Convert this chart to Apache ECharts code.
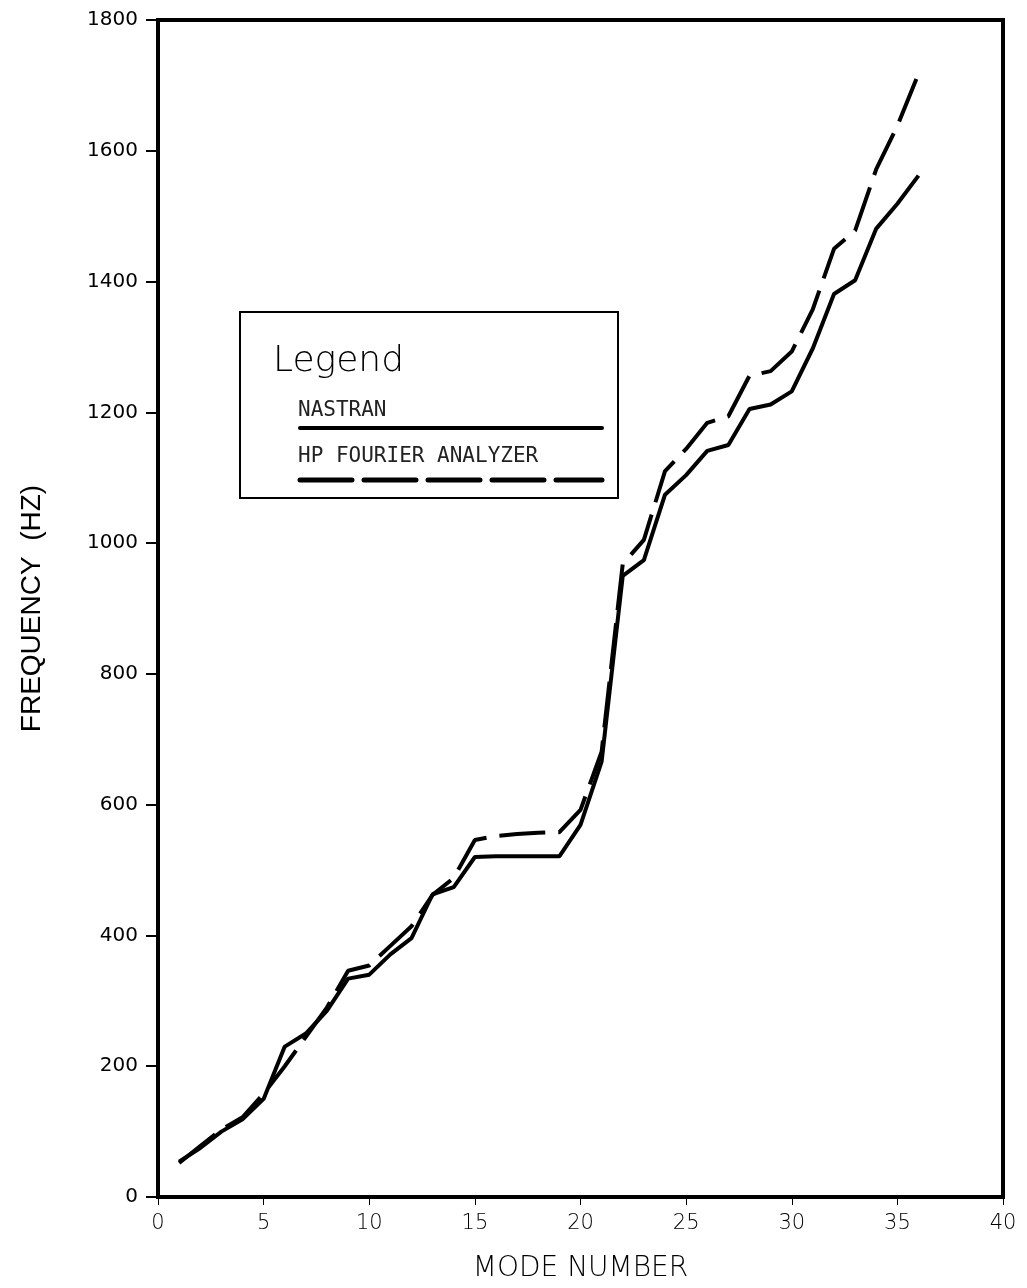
<!DOCTYPE html>
<html>
<head>
<meta charset="utf-8">
<title>Frequency vs mode number</title>
<script src="https://cdn.jsdelivr.net/npm/echarts@6/dist/echarts.min.js"></script>
<style>
  html, body { margin: 0; padding: 0; background: #fff; }
  #chart { width: 1027px; height: 1288px; }
</style>
</head>
<body>
<div id="chart"></div>
<script>
// mode numbers
const modes = [1, 2, 3, 4, 5, 6, 7, 8, 9, 10, 11, 12, 13, 14, 15, 16, 17, 18,
  19, 20, 21, 22, 23, 24, 25, 26, 27, 28, 29, 30, 31, 32, 33, 34, 35, 36];
// NASTRAN frequencies (Hz)
const nastran = [54, 75, 100, 119, 150, 230, 250, 285, 334, 340, 371, 396,
  463, 474, 520, 521, 521, 521, 521, 569, 666, 950, 974, 1074, 1104, 1141,
  1150, 1205, 1212, 1232, 1298, 1381, 1402, 1481, 1519, 1562];
// HP Fourier analyzer frequencies (Hz)
const hpFourier = [52, 78, 103, 122, 158, 200, 245, 290, 346, 354, 384, 414,
  462, 488, 546, 552, 555, 557, 558, 592, 681, 968, 1005, 1110, 1144, 1184,
  1194, 1256, 1263, 1293, 1358, 1450, 1478, 1572, 1638, 1718];
const xTicks = [0, 5, 10, 15, 20, 25, 30, 35, 40];
const yTicks = [0, 200, 400, 600, 800, 1000, 1200, 1400, 1600, 1800];

const chart = echarts.init(document.getElementById("chart"));

const option = {
  backgroundColor: "#fff",
  animation: false,
  grid: {
    left: 158,
    right: 24,
    top: 20,
    bottom: 85,
    show: true,
    borderColor: "#000",
    borderWidth: 4,
  },
  xAxis: {
    type: "value",
    min: xTicks[0],
    max: xTicks[xTicks.length - 1],
    interval: 5,
    name: "MODE NUMBER",
    nameLocation: "middle",
    nameGap: 58,
    nameTextStyle: {
      fontFamily: "DejaVu Sans",
      fontWeight: 200,
      fontSize: 28,
      color: "#000",
    },
    axisLine: { show: true, lineStyle: { color: "#000", width: 4 } },
    axisTick: { show: true, length: 8, lineStyle: { color: "#000", width: 1 } },
    axisLabel: {
      margin: 16,
      fontFamily: "DejaVu Sans",
      fontWeight: 200,
      fontSize: 21,
      color: "#000",
    },
    splitLine: { show: false },
  },
  yAxis: {
    type: "value",
    min: yTicks[0],
    max: yTicks[yTicks.length - 1],
    interval: 200,
    name: "FREQUENCY  (HZ)",
    nameLocation: "middle",
    nameGap: 112,
    nameRotate: 90,
    nameTextStyle: {
      fontFamily: "Liberation Sans",
      fontSize: 28,
      color: "#000",
    },
    axisLine: { show: true, lineStyle: { color: "#000", width: 4 } },
    axisTick: { show: true, length: 12, lineStyle: { color: "#000", width: 2 } },
    axisLabel: {
      margin: 20,
      fontFamily: "DejaVu Sans",
      fontSize: 20,
      color: "#000",
      formatter: (v) => String(v),
    },
    splitLine: { show: false },
  },
  series: [
    {
      name: "NASTRAN",
      type: "line",
      symbol: "none",
      data: modes.map((m, i) => [m, nastran[i]]),
      lineStyle: { color: "#000", width: 4, type: "solid" },
    },
    {
      name: "HP FOURIER ANALYZER",
      type: "line",
      symbol: "none",
      data: modes.map((m, i) => [m, hpFourier[i]]),
      lineStyle: { color: "#000", width: 4, type: [46, 13] },
    },
  ],
  // legend box drawn as in the original plot
  graphic: [
    {
      type: "rect",
      shape: { x: 240, y: 312, width: 378, height: 186 },
      style: { fill: "#fff", stroke: "#000", lineWidth: 2 },
      z: 100,
    },
    {
      type: "text",
      x: 273,
      y: 344,
      style: {
        text: "Legend",
        fontFamily: "DejaVu Sans",
        fontWeight: 200,
        fontSize: 36,
        fill: "#000",
      },
      z: 101,
    },
    {
      type: "text",
      x: 298,
      y: 400,
      style: {
        text: "NASTRAN",
        fontFamily: "DejaVu Sans Mono",
        fontSize: 21,
        fill: "#222",
      },
      z: 101,
    },
    {
      type: "line",
      shape: { x1: 300, y1: 428, x2: 602, y2: 428 },
      style: { stroke: "#000", lineWidth: 4, lineCap: "round" },
      z: 101,
    },
    {
      type: "text",
      x: 298,
      y: 446,
      style: {
        text: "HP FOURIER ANALYZER",
        fontFamily: "DejaVu Sans Mono",
        fontSize: 21,
        fill: "#222",
      },
      z: 101,
    },
    {
      type: "line",
      shape: { x1: 300, y1: 480, x2: 602, y2: 480 },
      style: { stroke: "#000", lineWidth: 5, lineDash: [52, 12], lineCap: "round" },
      z: 101,
    },
  ],
};

chart.setOption(option);
</script>
</body>
</html>
